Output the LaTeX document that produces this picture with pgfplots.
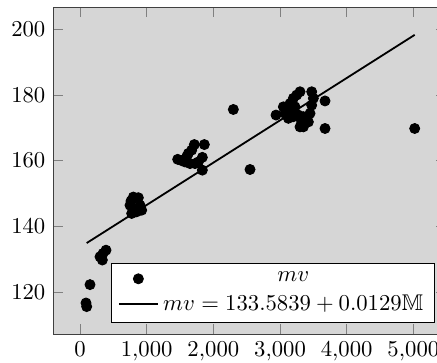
\documentclass[border=0pt]{standalone}
\usepackage{amssymb}
\usepackage{pgfplots}
\pgfplotsset{compat=1.18}
\definecolor{panel}{RGB}{214,214,214}

\pgfplotstableread{
x     mv
100   115.5
90    116.6
150   122.2
390   132.7
345   131.7
300   130.7
335   129.7
800   148.9
875   148.7
750   146.4
765   147.7
775   143.9
810   145.2
850   144.4
900   146.4
925   144.9
1465  160.4
1525  160.0
1575  159.6
1600  161.2
1625  162.2
1650  159.1
1675  163.2
1715  164.9
1725  159.1
1775  159.6
1835  161.0
1835  157.1
1865  164.9
2300  175.6
2550  157.3
2940  173.9
3050  176.4
3075  174.4
3100  175.4
3125  172.9
3150  177.4
3175  175.4
3200  179.0
3200  173.4
3225  176.4
3250  180.0
3275  173.9
3300  181.0
3300  170.3
3325  171.8
3350  173.4
3350  170.3
3425  171.8
3450  174.4
3475  176.9
3475  181.0
3500  179.0
3675  178.2
3675  169.8
5020  169.8
}\samples

\begin{document}
\begin{tikzpicture}
\begin{axis}[
  scale only axis,
  width=172.8pt, height=143.9pt,
  xmin=-400, xmax=5484,
  ymin=107.1, ymax=206.7,
  xtick={0,1000,...,5000},
  ytick={120,140,...,200},
  axis background/.style={fill=panel},
  axis line style={black!75},
  major tick style={gray},
  legend cell align=center,
  legend style={at={(0.973,0.034)}, anchor=south east, fill=white, draw=black},
]
\addplot[only marks, mark=*, mark size=2.2pt, black] table[x=x, y=mv] {\samples};
\addlegendentry{$mv$}
% fitted line mv = 133.5839 + 0.0129 M over the sample range
\addplot[thick, black] coordinates {(100,134.874) (5020,198.342)};
\addlegendentry{$mv = 133.5839 + 0.0129\mathbb{M}$}
\coordinate (sw) at (rel axis cs:0,0);
\end{axis}
\pgfresetboundingbox
\path (sw) ++(-23.5pt,-12.3pt) rectangle ++(192.5pt,159.5pt);
\end{tikzpicture}
\end{document}
